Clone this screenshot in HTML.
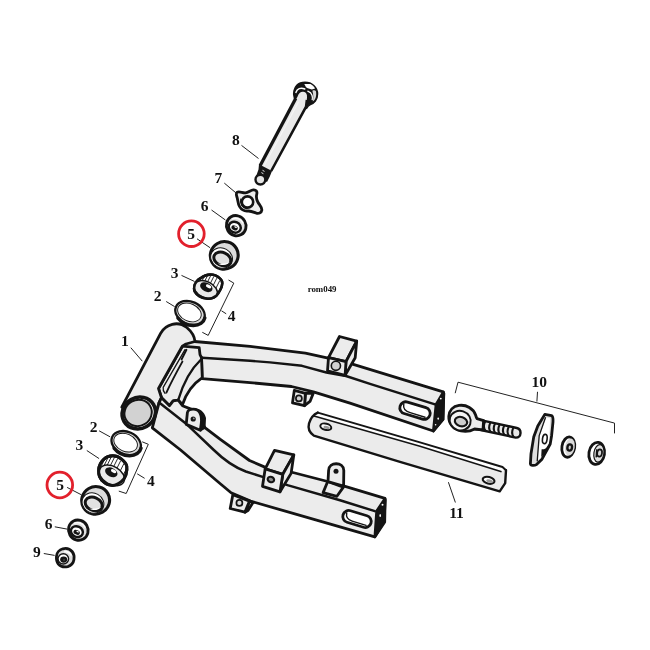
<!DOCTYPE html>
<html>
<head>
<meta charset="utf-8">
<title>rom049</title>
<style>
html,body{margin:0;padding:0;background:#fff;}
body{width:650px;height:650px;overflow:hidden;font-family:"Liberation Serif",serif;}
svg{display:block;position:absolute;left:0;top:0;will-change:transform;}
.o{fill:#ececec;stroke:#141414;stroke-width:2.8;stroke-linejoin:round;stroke-linecap:round;}
.w{fill:#fff;stroke:#141414;stroke-width:2.8;stroke-linejoin:round;stroke-linecap:round;}
.m{fill:none;stroke:#141414;stroke-width:2.8;stroke-linejoin:round;stroke-linecap:round;}
.t{fill:none;stroke:#141414;stroke-width:1.7;stroke-linejoin:round;stroke-linecap:round;}
.k{fill:#141414;stroke:none;}
.g{fill:#ececec;stroke:none;}
.l{fill:none;stroke:#222;stroke-width:1;}
text{font-family:"Liberation Serif",serif;font-weight:bold;font-size:15.5px;fill:#111;text-anchor:middle;}
.s{font-size:8.9px;}
.r{fill:none;stroke:#e2202c;stroke-width:2.8;}
</style>
</head>
<body>
<svg width="650" height="650" viewBox="0 0 650 650">
<rect width="650" height="650" fill="#fff"/>
<!-- ================= SWINGARM (1) ================= -->
<g id="swingarm">
<!-- upper (far) arm -->
<path class="g" d="M194.6 341.5 L250 346.4 L305.4 353.1 L327 357.8 L352.5 364.2 L443.2 391.8 L443.8 393.4 L443 419.4 L433.3 431 L350 403.2 L313.4 391.8 L291.5 386.5 L250 382.6 L202 378.6 L201.6 357.7 L199.5 347.7 L186 344 Z"/>
<path class="m" d="M194.6 341.5 L250 346.4 L305.4 353.1 L327 357.8 L352.5 364.2 L443.2 391.8 L443.8 393.4 L443 419.4 L433.3 431 L350 403.2 L313.4 391.8 L291.5 386.5 L250 382.6 L202 378.6 L201.6 357.7"/>
<path class="t" d="M201.6 357.7 L250 360.8 L270 362.4 L302 365.8 L326.4 372.5 L346 376 L370 383.8 L435.8 404.6" style="stroke-width:2.4"/>
<!-- end face of upper arm -->
<path d="M443.4 392 L443.8 393.4 L443 419.4 L433.3 431 L436 404.4 Z" fill="#141414" stroke="#141414" stroke-width="2.6" stroke-linejoin="round"/>
<circle cx="440.8" cy="398.6" r="0.9" fill="#fff"/><ellipse cx="438.2" cy="418.6" rx="0.8" ry="1.2" fill="#fff"/><circle cx="435.6" cy="424.8" r="0.8" fill="#fff"/>
<!-- slot upper arm -->
<g transform="translate(415 410.6) rotate(17)">
<rect class="w" x="-15.6" y="-6" width="31.2" height="12" rx="6" ry="6"/>
<path class="t" d="M-12.6 -2.8 C-12.2 2,-8 3.4,-4 3.4 L11.5 3.4" style="stroke-width:1.4"/>
</g>
<!-- small tab under upper arm -->
<path class="o" d="M305.4 393.2 L313.2 393.4 L310 401.4 L304.5 405.7 Z"/>
<path class="o" d="M294.3 390.4 L305.4 393.4 L304.5 405.7 L292.5 402.9 Z"/>
<circle cx="298.9" cy="398.4" r="3" fill="#d2d2d2" stroke="#141414" stroke-width="1.7"/>
<!-- clamp block on upper arm -->
<path class="o" d="M328.5 357.7 L339.5 336.5 L356.7 341.1 L346 361.6 Z"/>
<path class="o" d="M356.7 341.1 L355.2 357.7 L345.1 375.4 L346 361.6 Z"/>
<path class="o" d="M328.5 357.7 L346 361.6 L345.1 375.4 L327.5 370.8 Z"/>
<circle cx="335.9" cy="365.8" r="4.6" fill="#d2d2d2" stroke="#141414" stroke-width="1.6"/>
</g>

<!-- gusset / inner structure -->
<g id="gusset">
<path class="o" d="M182.3 346.2 L199.2 347.7 L200 354.6 L201.5 357.7 L202.3 377.7 C193 384,186 394,182.5 404.5 L178.2 400.2 L173.2 400.8 L169.5 405.7 L161.5 397.7 L158.5 388.5 Z"/>
<path class="t" d="M201 359.5 C191 369,183 384,178.4 399.5" style="stroke-width:2.4"/>
<path class="t" d="M185 349.6 L163.2 387.4 C162.8 389.6,163.6 391.8,165 393.4" style="stroke-width:1.3"/>
<path d="M186.4 349.8 L181.6 359.4" fill="none" stroke="#141414" stroke-width="2" stroke-linecap="round"/>
<path d="M182.4 361.6 C177.4 370.6,171.4 381.6,166.4 392.6" fill="none" stroke="#141414" stroke-width="1.9" stroke-linecap="round"/>
</g>

<!-- pivot tube body -->
<path class="o" d="M121.8 407.2 L160.6 333.4 C165.5 324,178 320.5,186.8 327.5 C191.5 331.5,194.6 337,195 341.5 L186 344 L182.3 346.2 L158.5 388.5 L161.5 397.7 L159.1 402.6 L153.5 421 Z"/>

<!-- lower (near) arm -->
<g id="lowerarm">
<path class="o" d="M161.5 397.7 L169.5 405.7 L173.2 400.8 L178.2 400.2 L182.5 405.7 L191.7 409.4 L205.2 427.8 L220 439.2 L249.5 460.5 L264.3 466.9 L292.9 472.5 L327.7 481.5 L344.3 486.2 L385 498.3 L385.2 500 L384 521.2 L374.8 536.9 L340 526.9 L250.5 501.1 L231.1 492.8 L220 483.5 L180.6 450 L152.3 427.8 L159.1 402.6 Z"/>
<path class="m" style="stroke-width:2.5" d="M159.1 402.6 L187.4 424.8 L213.8 450 C225 461,235 467.5,245.8 471.5 L263.4 477.1 L288.3 485.4 L340 500.2 L374.8 511.1"/>
<!-- end face -->
<path d="M385 498.6 L385.2 500 L384.8 522 L374.8 537 L376.6 511 Z" fill="#141414" stroke="#141414" stroke-width="2.6" stroke-linejoin="round"/>
<circle cx="382.5" cy="504.8" r="1" fill="#fff"/><ellipse cx="380.2" cy="515.4" rx="0.8" ry="1.5" fill="#fff"/>
<!-- slot -->
<g transform="translate(357 519) rotate(17)">
<rect class="w" x="-14.6" y="-6" width="29.2" height="12" rx="6" ry="6"/>
<path class="t" d="M-11.6 -2.8 C-11.2 2,-8 3.4,-4 3.4 L10.5 3.4" style="stroke-width:1.4"/>
</g>
<!-- tab near tube -->
<path class="k" d="M191 409 C197 406.5,204 410,206 418 L205.5 428.5 L200.5 431.5 L198 420 Z"/>
<path class="o" d="M187.4 412.5 C188.5 408.5,197 407.5,200 413 C201.5 416,201.8 420,201.2 424 L200.3 430.3 L186.2 424.4 Z"/>
<circle cx="193.2" cy="419" r="2.6" fill="#141414"/><circle cx="193.8" cy="418.4" r="0.9" fill="#999"/>
<!-- small tab below -->
<path class="o" d="M249.5 501.1 L253 502.5 L248 510.5 L244.9 512.2 Z"/>
<path class="o" d="M232.9 494.6 L249.5 501.1 L244.9 512.2 L230.2 508.5 Z"/>
<circle cx="239.4" cy="502.9" r="3" fill="#dadada" stroke="#141414" stroke-width="1.7"/>
<!-- clamp block -->
<path class="o" d="M265.2 468.8 L274.5 450.3 L293.8 454.9 L282.8 474.3 Z"/>
<path class="o" d="M293.8 454.9 L291.1 473.4 L280 491.8 L282.8 474.3 Z"/>
<path class="o" d="M265.2 468.8 L282.8 474.3 L280 491.8 L262.5 486.3 Z"/>
<ellipse cx="270.9" cy="479.5" rx="3.3" ry="2.7" transform="rotate(20 270.9 479.5)" fill="#8c8c8c" stroke="#141414" stroke-width="2.1"/>
<!-- upright tab -->
<path class="o" d="M327.7 481.5 L323.1 492.6 L336.9 496.3 L343.4 487.1 Z"/>
<path class="o" d="M328 481.6 L328.6 470.5 C328.8 461.5,343.6 461.5,343.8 470.5 L343.6 486 L336.5 484 Z"/>
<circle cx="336" cy="471.2" r="2.5" fill="#141414"/>
</g>

<!-- tube end -->
<ellipse cx="138.8" cy="413" rx="17" ry="15.6" transform="rotate(-30 138.8 413)" fill="#fff" stroke="#141414" stroke-width="3.6"/>
<ellipse cx="138.1" cy="412.9" rx="13.9" ry="13" transform="rotate(-30 138.1 412.9)" fill="#d2d2d2" stroke="#141414" stroke-width="2"/>

<!-- ================= BAR (11) ================= -->
<g id="bar11">
<path d="M317.8 412.6 L420 442.4 L502.5 467 L506 470.2 L505.2 483.1 L499.7 491.4 L400 461.8 L313.8 435.6 C309.5 432.5,307.8 428,309 423.5 C310.5 418.4,313.6 414.4,317.8 412.6 Z" fill="#ebebeb" stroke="none"/>
<path d="M317.8 412.6 L420 442.4 L502.5 467 L505 469.6 L501.6 471.8 L420 446.2 L314.4 416.2 Z" fill="#fff"/>
<path d="M314 416 L420 446.2 L501.6 471.8" fill="none" stroke="#141414" stroke-width="1.6"/>
<path d="M317.8 412.6 L420 442.4 L502.5 467 L506 470.2" fill="none" stroke="#141414" stroke-width="2" stroke-linejoin="round" stroke-linecap="round"/>
<path d="M506 470.2 L505.2 483.1 L499.7 491.4 L400 461.8 L313.8 435.6 C309.5 432.5,307.8 428,309 423.5 C310.5 418.4,313.6 414.4,317.8 412.6" fill="none" stroke="#141414" stroke-width="2.4" stroke-linejoin="round" stroke-linecap="round"/>
<ellipse cx="325.8" cy="426.8" rx="5.6" ry="3.1" transform="rotate(14 325.8 426.8)" fill="#fff" stroke="#141414" stroke-width="2"/>
<ellipse cx="326.6" cy="427.4" rx="3.2" ry="1.5" transform="rotate(14 326.6 427.4)" fill="#9a9a9a"/>
<ellipse cx="488.6" cy="480.3" rx="6" ry="3.3" transform="rotate(14 488.6 480.3)" fill="#fff" stroke="#141414" stroke-width="2.1"/>
<ellipse cx="489.6" cy="481" rx="3.4" ry="1.6" transform="rotate(14 489.6 481)" fill="#9a9a9a"/>
</g>

<!-- ================= EYE BOLT + HARDWARE (10) ================= -->
<g id="p10">
<!-- threaded shaft -->
<path d="M476 419.2 L516.8 428 C522 429.2,521.8 437.6,515.8 437.6 L476 429 Z" fill="#e9e9e9" stroke="#141414" stroke-width="2.4" stroke-linejoin="round"/>
<g style="stroke:#141414;stroke-width:2;fill:none;stroke-linecap:round">
<path d="M485.2 421.6 C483.6 424.6,483.8 428.4,485.4 430.6"/>
<path d="M490.4 422.8 C488.8 425.8,489 429.6,490.6 431.8"/>
<path d="M495 423.8 C493.4 426.8,493.6 430.6,495.2 432.8"/>
<path d="M499.6 424.8 C498 427.8,498.2 431.6,499.8 433.8"/>
<path d="M504.2 425.8 C502.6 428.8,502.8 432.6,504.4 434.8"/>
<path d="M508.8 426.8 C507.2 429.8,507.4 433.6,509 435.8"/>
<path d="M513.4 427.8 C511.8 430.8,512 434.6,513.6 436.8"/>
</g>
<!-- eye body -->
<path d="M459 405.4 C466.5 404.4,473.5 408.6,475.6 415 C476 416.4,476.4 417.6,477 418.6 L483.6 420.6 L483 429.8 L474.6 429 C471 431,466 432,461 431 C453.6 429.6,448.4 423.6,448.8 416.4 C449.2 410.4,453 406.2,459 405.4 Z" fill="#ececec" stroke="#141414" stroke-width="2.8" stroke-linejoin="round"/>
<ellipse cx="460.2" cy="420.6" rx="10.6" ry="9.7" transform="rotate(18 460.2 420.6)" fill="#f4f4f4" stroke="#141414" stroke-width="1.9"/>
<ellipse cx="461" cy="421.6" rx="6.3" ry="4.6" transform="rotate(18 461 421.6)" fill="#cdcdcd" stroke="#141414" stroke-width="2.1"/>
<!-- plate -->
<path d="M544.8 414.4 L551.6 415.6 C553 416.2,553.2 418,553 421.8 L551.6 435.7 L550.2 444 L542 459.2 L536.5 464.6 C534.4 465.8,530.6 466,530.4 463.6 L531 453.7 L533.7 437.1 L537.8 426 Z" fill="#dedede" stroke="#141414" stroke-width="2.8" stroke-linejoin="round"/>
<path d="M546.2 417.6 L550.2 418.2 L549 442.6 L540.4 458 L537.4 460.6 L539.4 436.4 Z" fill="#fff"/>
<path d="M545.6 417.2 L539.2 435.6 L537.2 461.4" fill="none" stroke="#141414" stroke-width="1.3"/>
<path class="k" d="M541.6 449.2 C543.6 449.6,546.6 448.6,548 445.4 L547 451.6 L541.2 457 Z"/>
<ellipse cx="544.8" cy="439" rx="2.3" ry="4.7" transform="rotate(8 544.8 439)" fill="#fff" stroke="#141414" stroke-width="1.6"/>
<!-- washer 1 -->
<ellipse cx="568.3" cy="447.1" rx="6.4" ry="10.2" transform="rotate(9 568.3 447.1)" fill="#fff" stroke="#141414" stroke-width="2.8"/>
<ellipse cx="569.9" cy="447" rx="4.8" ry="8.6" transform="rotate(9 569.9 447)" fill="#dadada"/>
<ellipse cx="569.7" cy="447.5" rx="2.3" ry="3.1" transform="rotate(9 569.7 447.5)" fill="#cfcfcf" stroke="#141414" stroke-width="2.4"/>
<!-- washer 2 / nut -->
<ellipse cx="596.7" cy="453.4" rx="7.8" ry="11.1" transform="rotate(9 596.7 453.4)" fill="#fff" stroke="#141414" stroke-width="2.8"/>
<ellipse cx="598.9" cy="453.4" rx="5" ry="8.8" transform="rotate(9 598.9 453.4)" fill="#e0e0e0" stroke="#141414" stroke-width="1.2"/>
<ellipse cx="599.6" cy="453" rx="2.4" ry="3.7" transform="rotate(9 599.6 453)" fill="#d6d6d6" stroke="#141414" stroke-width="1.7"/>
<path d="M596.8 449.2 L596.2 457.4" fill="none" stroke="#141414" stroke-width="1.5"/>
</g>

<g id="upper">
<!-- bolt 8 -->
<!-- head -->
<path d="M294.4 98.2 C293.4 95.4,293.4 92.6,294 90.6 C294.6 88.2,295.6 86.4,296.8 85.2 C299 83,301.8 82.2,305 82.2 C308.4 82.2,311.6 83.4,313.8 85.4 C316.2 87.6,317.6 90.8,317.6 94 C317.6 96.8,316.8 99.2,315.4 101 C314 102.8,312.2 104,310.4 104.6 C309 105.2,307.6 106.6,306.6 108.4 L299 101 Z" fill="#141414" stroke="#141414" stroke-width="1.4" stroke-linejoin="round"/>
<path d="M304.3 83.9 L310.5 83.9 C312.6 85,314.2 86.6,315.1 88.5 L311.9 89.4 C309.6 89.2,307.4 88.4,305.9 87.1 Z" fill="#fff"/>
<path d="M295.9 92.4 C296.6 90.4,297.6 89.2,299.2 88.6 C301 88,303 88.2,304.8 89" fill="none" stroke="#fff" stroke-width="1.5" stroke-linecap="round"/>
<path d="M312.4 90.8 C313.6 90.2,315 90.2,315.8 91 C316.4 93,316.4 95.6,315.6 97.8 C315 99.6,314 100.8,312.8 101.4 C313.4 99,313.6 94.6,312.4 90.8 Z" fill="#d8d8d8"/>
<path d="M307.8 91.2 C309.8 92,311.4 93.4,312 95.2 C312.5 96.8,312.5 98.4,312.2 99.6" fill="none" stroke="#fff" stroke-width="1.3" stroke-linecap="round"/>
<!-- shaft -->
<path d="M297.6 96.6 C298.6 93.2,300.8 91.4,303.4 91.8 C306 92.2,307.4 94.4,307 97.4 L306.2 106.6 L271.2 171.2 L260.2 165.4 Z" fill="#eaeaea" stroke="none"/>
<path class="m" d="M295.7 98.4 L260.2 165.6" style="stroke-width:3.3;stroke-linecap:butt"/>
<path class="m" d="M306.9 100 L306.1 106.7 L271.2 171" style="stroke-width:2.6;stroke-linecap:butt"/>
<path d="M298.5 101.9 L263.7 166.6" stroke="#f6f6f6" stroke-width="1.1" fill="none"/>
<path class="k" d="M259 164.3 L272 171 L269.8 176.5 L267 182 L256.2 176 L258.5 169.5 Z"/>
<circle cx="260.4" cy="179.6" r="4.9" fill="#e4e4e4" stroke="#141414" stroke-width="2.4"/>
<path d="M262.5 170.3 L264.5 171.4 M261.4 172.6 L263.4 173.7" stroke="#fff" stroke-width="0.9"/>
<!-- lock washer 7 -->
<path d="M237 192.4 C239 191,242.4 193,245.4 192.8 C248.6 192.6,250.6 190,253.4 189.8 C256 189.6,257.4 191.6,256.8 194 C256 197,256.4 199.4,257.8 202 C259.2 204.8,262.2 207.2,261.8 210.2 C261.4 213,258.4 214,256 213 C253.4 212,250.8 210.8,248 211 C244.4 211.4,241.4 209.6,239.6 206.6 C237.8 203.6,238 200.6,237.2 197.8 C236.6 195.8,235.6 193.6,237 192.4 Z" fill="#ededed" stroke="#141414" stroke-width="2.8" stroke-linejoin="round"/>
<path d="M240.8 198.6 C239.6 203.2,242.2 208,247.2 208.8" fill="none" stroke="#141414" stroke-width="1.2"/>
<ellipse cx="247.5" cy="202" rx="5.7" ry="5.6" fill="#fff" stroke="#141414" stroke-width="2.6"/>

<g transform="translate(236.2 225.7) scale(0.95)">
<ellipse cx="0" cy="0" rx="10.2" ry="10.8" transform="rotate(-30)" fill="#e2e2e2" stroke="#141414" stroke-width="3"/>
<path d="M-4.5 -7 C0 -9,5.5 -7,7.2 -2.5" fill="none" stroke="#fff" stroke-width="1.4"/>
<ellipse cx="-1.5" cy="1.6" rx="6.5" ry="5.5" transform="rotate(25 -1.5 1.6)" fill="#fff" stroke="#141414" stroke-width="2.6"/>
<ellipse cx="-1.7" cy="2.3" rx="3.5" ry="2.4" transform="rotate(25 -1.7 2.3)" fill="#141414"/>
<ellipse cx="-0.7" cy="1.6" rx="1.5" ry="0.7" transform="rotate(25 -0.7 1.6)" fill="#fff"/>
</g>
<g transform="translate(223.8 255.4)">
<ellipse cx="0.4" cy="0.2" rx="14" ry="13.7" transform="rotate(-30)" fill="#dcdcdc" stroke="#141414" stroke-width="3.1"/>
<ellipse cx="-2.2" cy="2.6" rx="11.2" ry="9.9" transform="rotate(29 -2.2 2.6)" fill="#fff" stroke="#141414" stroke-width="1"/>
<ellipse cx="-1.5" cy="3.6" rx="8.8" ry="6.5" transform="rotate(24 -1.5 3.6)" fill="#e2e2e2" stroke="#141414" stroke-width="3"/>
<path d="M-6 8 C-2 10.6,3.4 10.2,6 6.4 C3.4 8.2,-2 8.8,-6 8 Z" fill="#fff"/>
</g>
<g>
<path d="M192.9 288.6 C193 285.5,193.8 283.5,195.2 281.7 C196.5 279.8,198 278.5,199.9 277.5 C203 275,206.5 273.4,210.5 273.4 C214.5 273.4,218 275,220.6 277.5 C222.5 279.2,223.6 281,223.4 283.1 C223.3 285.5,222.6 287.5,221.6 289.5 C220.4 292,219 294.5,216.9 296.5 C214.5 298.5,211.5 299.7,207.7 299.7 C204 299.7,201 298.6,198.5 296.9 C196.3 295.5,194.8 294,193.9 292.3 C193.2 291,192.9 290,192.9 288.6 Z" transform="translate(208.2 286.5) scale(0.925) translate(-208.2 -286.5)" fill="#fff" stroke="#141414" stroke-width="2.7" stroke-linejoin="round"/>
<g style="stroke:#141414;stroke-width:0.9;fill:none"><path d="M198.8 278.2 l-4.6 9.2"/><path d="M201.8 276.5 l-4.6 9.2"/><path d="M204.8 275.4 l-4.6 9.2"/><path d="M207.8 275.1 l-4.6 9.2"/><path d="M210.8 275.4 l-4.6 9.2"/><path d="M213.8 276.5 l-4.6 9.2"/><path d="M216.8 278.2 l-4.6 9.2"/><path d="M219.8 280.5 l-4.6 9.2"/><path d="M222.8 283.6 l-4.6 9.2"/></g>
<ellipse cx="205.7" cy="289.6" rx="12.4" ry="8.0" transform="rotate(26 205.7 289.6)" fill="#e9e9e9" stroke="#141414" stroke-width="1.5"/>
<path d="M192.9 288.6 C193 285.5,193.8 283.5,195.2 281.7 C196.5 279.8,198 278.5,199.9 277.5 C203 275,206.5 273.4,210.5 273.4 C214.5 273.4,218 275,220.6 277.5 C222.5 279.2,223.6 281,223.4 283.1 C223.3 285.5,222.6 287.5,221.6 289.5 C220.4 292,219 294.5,216.9 296.5 C214.5 298.5,211.5 299.7,207.7 299.7 C204 299.7,201 298.6,198.5 296.9 C196.3 295.5,194.8 294,193.9 292.3 C193.2 291,192.9 290,192.9 288.6 Z" transform="translate(208.2 286.5) scale(0.925) translate(-208.2 -286.5)" fill="none" stroke="#141414" stroke-width="2.7" stroke-linejoin="round"/>
<ellipse cx="206.3" cy="287.2" rx="6.6" ry="4.4" transform="rotate(27 206.3 287.2)" fill="#141414"/>
<ellipse cx="208.6" cy="286.40000000000003" rx="2.9" ry="1.6" transform="rotate(27 208.6 286.40000000000003)" fill="#fff"/>
</g>
<g transform="translate(190 312.9) rotate(24)">
<ellipse cx="0" cy="0" rx="15.3" ry="11.3" fill="#d9d9d9" stroke="#141414" stroke-width="2.3"/>
<path d="M-9 9.6 A15.6 11.6 0 0 0 15.6 -1.5" fill="none" stroke="#141414" stroke-width="3.4" stroke-linecap="round"/>
<ellipse cx="-0.7" cy="-0.2" rx="12.3" ry="8.7" fill="#fff" stroke="#141414" stroke-width="0.9"/>
</g>
</g>
<g id="lower">
<g transform="translate(126.2 443.1) rotate(24)">
<ellipse cx="0" cy="0" rx="15.3" ry="11.3" fill="#d9d9d9" stroke="#141414" stroke-width="2.3"/>
<path d="M-9 9.6 A15.6 11.6 0 0 0 15.6 -1.5" fill="none" stroke="#141414" stroke-width="3.4" stroke-linecap="round"/>
<ellipse cx="-0.7" cy="-0.2" rx="12.3" ry="8.7" fill="#fff" stroke="#141414" stroke-width="0.9"/>
</g>
<g>
<path d="M97.5 470.5 C97.6 466,100 461,103.5 458 C106 455.5,109 454.6,112.7 454.6 C116.5 454.6,119.5 456,121.9 458 C125 460.5,127.4 463,127.9 465.9 C128.4 469,128,472,127 475.1 C126,478.5,124.5 480.5,121.9 482.5 C119 484.8,116.5 486.6,112.7 486.6 C109 486.6,106 485.5,103.5 483.4 C101 481.5,99.4 479.5,98.4 476.9 C97.7 475,97.4 473,97.5 470.5 Z" transform="translate(112.7 470.6) scale(0.925) translate(-112.7 -470.6)" fill="#fff" stroke="#141414" stroke-width="3.2" stroke-linejoin="round"/>
<g style="stroke:#141414;stroke-width:0.9;fill:none"><path d="M102.7 459.2 l-4.6 9.2"/><path d="M105.5 457.7 l-4.6 9.2"/><path d="M108.4 456.9 l-4.6 9.2"/><path d="M111.4 456.7 l-4.6 9.2"/><path d="M114.5 457.3 l-4.6 9.2"/><path d="M117.6 458.7 l-4.6 9.2"/><path d="M120.7 460.7 l-4.6 9.2"/><path d="M124.0 463.4 l-4.6 9.2"/><path d="M127.3 466.9 l-4.6 9.2"/></g>
<ellipse cx="111.9" cy="475.4" rx="13.6" ry="9.0" transform="rotate(30 111.9 475.4)" fill="#e9e9e9" stroke="#141414" stroke-width="1.5"/>
<path d="M97.5 470.5 C97.6 466,100 461,103.5 458 C106 455.5,109 454.6,112.7 454.6 C116.5 454.6,119.5 456,121.9 458 C125 460.5,127.4 463,127.9 465.9 C128.4 469,128,472,127 475.1 C126,478.5,124.5 480.5,121.9 482.5 C119 484.8,116.5 486.6,112.7 486.6 C109 486.6,106 485.5,103.5 483.4 C101 481.5,99.4 479.5,98.4 476.9 C97.7 475,97.4 473,97.5 470.5 Z" transform="translate(112.7 470.6) scale(0.925) translate(-112.7 -470.6)" fill="none" stroke="#141414" stroke-width="3.2" stroke-linejoin="round"/>
<ellipse cx="111.3" cy="472.3" rx="6.6" ry="4.4" transform="rotate(27 111.3 472.3)" fill="#141414"/>
<ellipse cx="113.60000000000001" cy="471.1" rx="2.9" ry="1.6" transform="rotate(27 113.60000000000001 471.1)" fill="#fff"/>
</g>
<g transform="translate(95.2 500.4)">
<ellipse cx="0.4" cy="0.2" rx="14" ry="13.7" transform="rotate(-30)" fill="#dcdcdc" stroke="#141414" stroke-width="3.1"/>
<ellipse cx="-2.2" cy="2.6" rx="11.2" ry="9.9" transform="rotate(29 -2.2 2.6)" fill="#fff" stroke="#141414" stroke-width="1"/>
<ellipse cx="-1.5" cy="3.6" rx="8.8" ry="6.5" transform="rotate(24 -1.5 3.6)" fill="#e2e2e2" stroke="#141414" stroke-width="3"/>
<path d="M-6 8 C-2 10.6,3.4 10.2,6 6.4 C3.4 8.2,-2 8.8,-6 8 Z" fill="#fff"/>
</g>
<g transform="translate(78.3 530.1) scale(0.95)">
<ellipse cx="0" cy="0" rx="10.2" ry="10.8" transform="rotate(-30)" fill="#e2e2e2" stroke="#141414" stroke-width="3"/>
<path d="M-4.5 -7 C0 -9,5.5 -7,7.2 -2.5" fill="none" stroke="#fff" stroke-width="1.4"/>
<ellipse cx="-1.5" cy="1.6" rx="6.5" ry="5.5" transform="rotate(25 -1.5 1.6)" fill="#fff" stroke="#141414" stroke-width="2.6"/>
<ellipse cx="-1.7" cy="2.3" rx="3.5" ry="2.4" transform="rotate(25 -1.7 2.3)" fill="#141414"/>
<ellipse cx="-0.7" cy="1.6" rx="1.5" ry="0.7" transform="rotate(25 -0.7 1.6)" fill="#fff"/>
</g>
<g transform="translate(65.1 557.6) scale(0.9)">
<path d="M-9.6 -1.5 C-9.4 -5,-6.5 -8.6,-2.5 -9.8 C1 -10.6,5.5 -9.6,8 -6.5 C10 -4,10.3 -0.5,9.8 2.5 C9.2 6,6.5 9,3 10 C-0.5 10.8,-5 10,-7.5 7.2 C-9.3 5,-9.8 1.5,-9.6 -1.5 Z" fill="#dcdcdc" stroke="#141414" stroke-width="3.1" stroke-linejoin="round"/>
<path d="M-1 -6.6 C2.5 -6.8,5.8 -5,7 -2.2" fill="none" stroke="#fff" stroke-width="1.7"/>
<ellipse cx="-2" cy="1.4" rx="5.9" ry="5.7" fill="#fff" stroke="#141414" stroke-width="1.6"/>
<ellipse cx="-1.6" cy="2.2" rx="3.9" ry="3.5" fill="#141414"/>
<circle cx="-1.2" cy="2.6" r="0.7" fill="#777"/>
</g>
</g>
<!-- ================= LEADERS / BRACKETS ================= -->
<g class="l">
<path d="M241.5 145.4 L258.5 158.5"/>
<path d="M224.3 183.1 L236.2 193.1"/>
<path d="M211.5 210 L225.4 220"/>
<path d="M197 238.8 L210.2 247.8"/>
<path d="M181.5 275.4 L194.6 281.5"/>
<path d="M166.2 301.5 L174.6 306.6"/>
<path d="M228.5 280 L233.8 283.1 L208.2 335.4 L202.3 332.3"/>
<path d="M221.5 310.8 L226.2 313.8"/>
<path d="M130.8 347.7 L142.3 361.2"/>
<path d="M99.1 430.8 L110.2 436.9"/>
<path d="M86.8 450.5 L99.1 458.6"/>
<path d="M142.2 441.8 L148.3 444.3 L126.2 493.5 L118.8 491.1"/>
<path d="M137.2 473.8 L144.6 478.3"/>
<path d="M67.1 487.4 L81.4 494.8"/>
<path d="M54.8 526.8 L67.6 529.2"/>
<path d="M43.8 553.5 L54.6 555.4"/>
<path d="M455.2 393.2 L458 382.2 L614.5 423.1 L614.5 433.4"/>
<path d="M536.9 401.5 L537.5 391.8"/>
<path d="M448.4 482.2 L455.4 502.5"/>
</g>

<!-- ================= RED CIRCLES ================= -->
<circle class="r" cx="191.4" cy="233.7" r="12.8"/>
<circle class="r" cx="59.8" cy="485" r="12.8"/>

<!-- ================= LABELS ================= -->
<g>
<text x="235.9" y="145.2">8</text>
<text x="218.4" y="182.6">7</text>
<text x="204.6" y="210.9">6</text>
<text x="191.2" y="239.1">5</text>
<text x="174.7" y="277.8">3</text>
<text x="157.6" y="300.9">2</text>
<text x="231.5" y="321.0">4</text>
<text x="124.8" y="346.2">1</text>
<text x="93.7" y="432.4">2</text>
<text x="79.4" y="450.2">3</text>
<text x="150.8" y="486.0">4</text>
<text x="60.2" y="489.8">5</text>
<text x="48.6" y="529.4">6</text>
<text x="36.9" y="556.8">9</text>
<text x="539.3" y="387.3">10</text>
<text x="456.5" y="518.3">11</text>
<text class="s" x="322.1" y="291.8">rom049</text>
</g>

</svg>
</body>
</html>
